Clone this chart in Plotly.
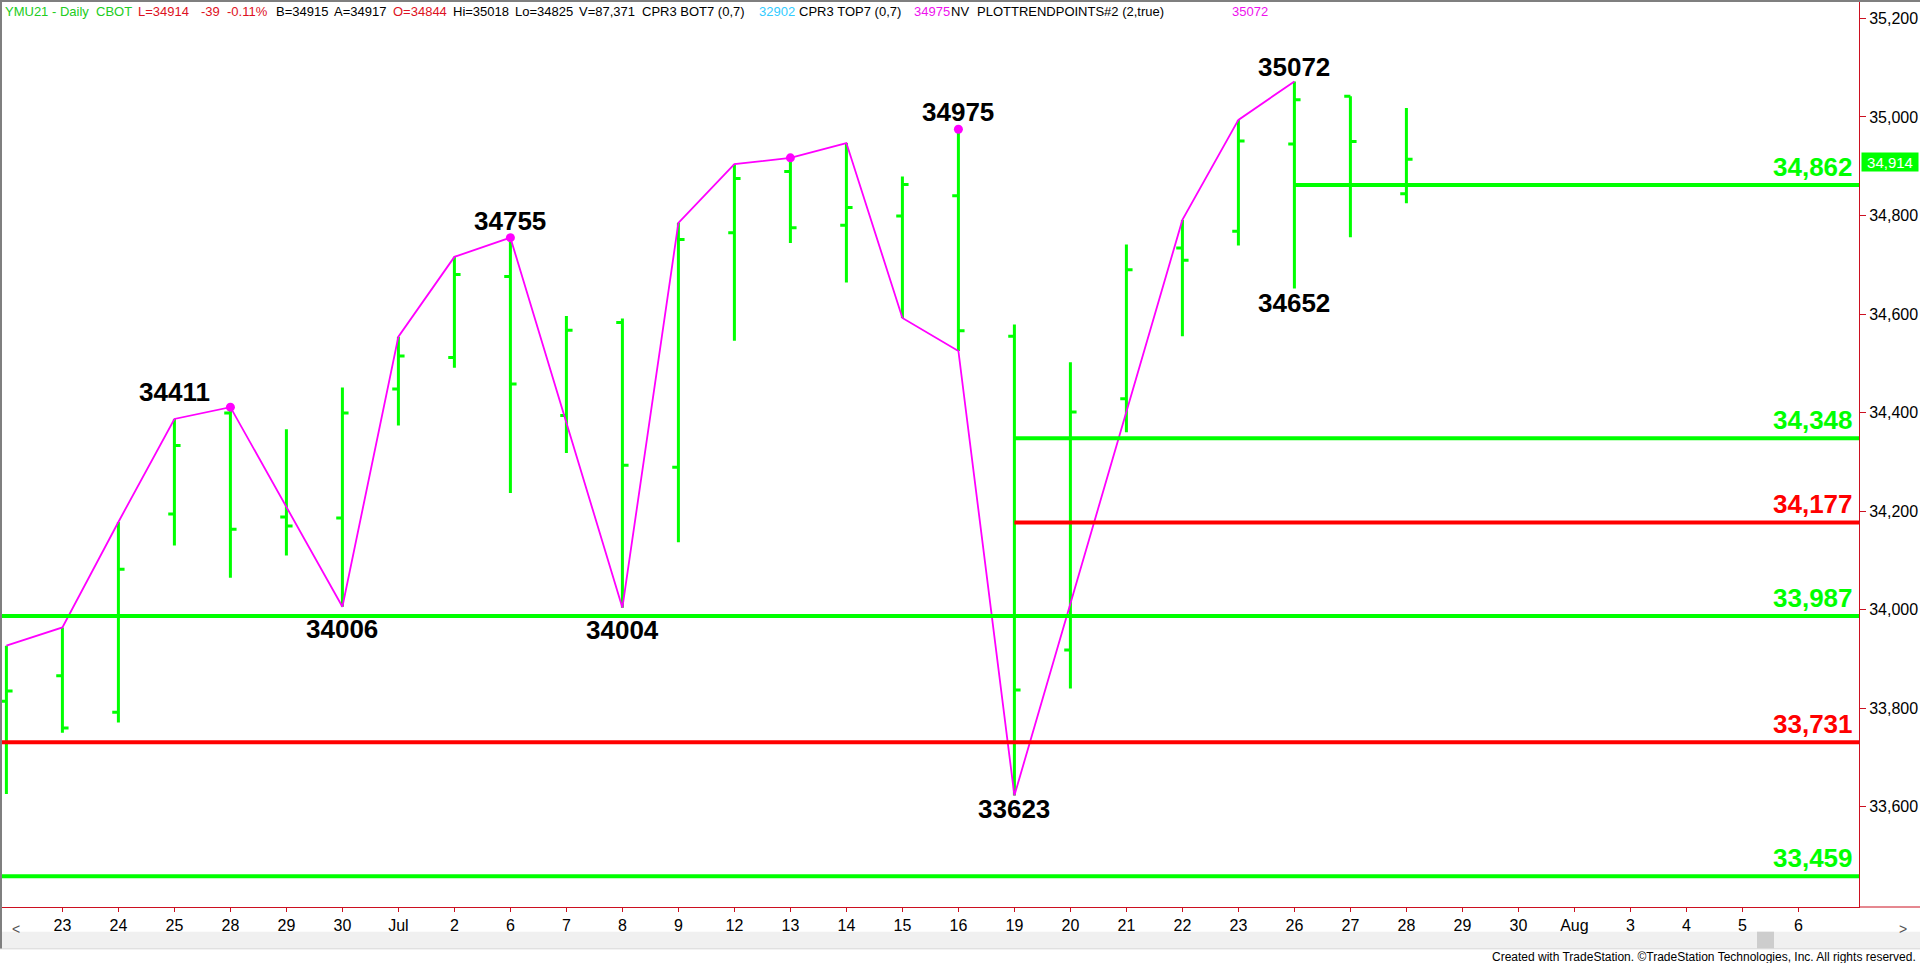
import plotly.graph_objects as go

# ---------------- data ----------------
dates = ["Jun 22", "Jun 23", "Jun 24", "Jun 25", "Jun 28", "Jun 29", "Jun 30",
         "Jul 1", "Jul 2", "Jul 6", "Jul 7", "Jul 8", "Jul 9", "Jul 12", "Jul 13",
         "Jul 14", "Jul 15", "Jul 16", "Jul 19", "Jul 20", "Jul 21", "Jul 22",
         "Jul 23", "Jul 26", "Jul 27", "Jul 28"]
future_dates = ["Jul 29", "Jul 30", "Aug 2", "Aug 3", "Aug 4", "Aug 5", "Aug 6"]
tick_labels = ["23", "24", "25", "28", "29", "30", "Jul", "2", "6", "7", "8", "9",
               "12", "13", "14", "15", "16", "19", "20", "21", "22", "23", "26",
               "27", "28", "29", "30", "Aug", "3", "4", "5", "6"]

opens = [33814, 33866, 33792, 34194, 34399, 34188, 34186, 34448, 34512, 34676,
         34394, 34583, 34289, 34765, 34889, 34780, 34799, 34840, 34555, 33918,
         34428, 34734, 34768, 34945, 35042, 34844]
highs = [33927, 33964, 34178, 34387, 34411, 34366, 34451, 34554, 34716, 34755,
         34596, 34591, 34785, 34904, 34917, 34947, 34879, 34975, 34579, 34502,
         34741, 34791, 34994, 35072, 35042, 35018]
lows = [33626, 33750, 33771, 34130, 34065, 34110, 34006, 34374, 34491, 34237,
        34318, 34004, 34137, 34546, 34744, 34664, 34592, 34525, 33623, 33840,
        34360, 34555, 34739, 34652, 34756, 34825]
closes = [33835, 33760, 34082, 34333, 34163, 34170, 34399, 34515, 34680, 34458,
          34567, 34293, 34751, 34875, 34775, 34816, 34863, 34566, 33837, 34401,
          34690, 34709, 34951, 35035, 34950, 34914]

zigzag_idx = [0, 1, 2, 3, 4, 6, 7, 8, 9, 11, 12, 13, 14, 15, 16, 17, 18, 21, 22, 23]
zigzag_val = [33927, 33964, 34178, 34387, 34411, 34006, 34554, 34716, 34755, 34004,
              34785, 34904, 34917, 34947, 34592, 34525, 33623, 34791, 34994, 35072]

dot_idx = [4, 9, 14, 17]
dot_val = [34411, 34755, 34917, 34975]

label_idx = [3, 6, 9, 11, 17, 18, 23, 23]
label_val = [34411, 34006, 34755, 34004, 34975, 33623, 35072, 34652]
label_text = ["34411", "34006", "34755", "34004", "34975", "33623", "35072", "34652"]

levels = [34862, 34348, 34177, 33987, 33731, 33459]
level_text = ["34,862", "34,348", "34,177", "33,987", "33,731", "33,459"]
level_kind = ["green", "green", "red", "green", "red", "green"]
level_start = [23, 18, 18, None, None, None]

last_price = 34914
last_price_text = "34,914"

y_ticks = [33600, 33800, 34000, 34200, 34400, 34600, 34800, 35000, 35200]

header_parts = [("YMU21 - Daily  CBOT", "green"), ("L=34914", "red"), ("-39", "red"),
                ("-0.11%", "red"), ("B=34915", "black"), ("A=34917", "black"),
                ("O=34844", "red"), ("Hi=35018", "black"), ("Lo=34825", "black"),
                ("V=87,371", "black"), ("CPR3 BOT7 (0,7)", "black"), ("32902", "cyan"),
                ("CPR3 TOP7 (0,7)", "black"), ("34975", "magenta"), ("NV", "black"),
                ("PLOTTRENDPOINTS#2 (2,true)", "black"), ("35072", "magenta")]
footer = "Created with TradeStation. ©TradeStation Technologies, Inc. All rights reserved."

# ---------------- layout geometry ----------------
W, H = 1920, 963
PW, PH = 1859, 907          # plot area width / height in px
X_PER = 56.0                # px per bar
X0 = 6.4                    # px of bar 0
x_range = [-X0 / X_PER, (PW - X0) / X_PER]
Y_TOP, Y_BOT = 35237.3, 33396.6

header_x = [3, 136, 199, 225, 274, 332, 391, 451, 513, 577, 640, 757, 797, 912, 949, 975, 1230]
label_shift = [15, -22, 17, -22, 17, -14, 14, -15]

COL = {"green": "#00FF00", "red": "#FF0000", "black": "#000000",
       "cyan": "#33CCFF", "magenta": "#FF00FF"}
HCOL = {"green": "#22CC22", "red": "#DD1122", "black": "#000000",
        "cyan": "#33CCFF", "magenta": "#EE11EE"}
AXIS_RED = "#CC1020"


def px_x(px):
    return px / PW


def px_y(py):
    return (PH - py) / PH


xs = list(range(len(dates)))

fig = go.Figure()

fig.add_trace(go.Ohlc(
    x=xs, open=opens, high=highs, low=lows, close=closes,
    increasing=dict(line=dict(color=COL["green"], width=3)),
    decreasing=dict(line=dict(color=COL["green"], width=3)),
    tickwidth=0.11, hoverinfo="skip", showlegend=False))

fig.add_trace(go.Scatter(
    x=zigzag_idx, y=zigzag_val, mode="lines",
    line=dict(color=COL["magenta"], width=1.8), hoverinfo="skip", showlegend=False))

fig.add_trace(go.Scatter(
    x=dot_idx, y=dot_val, mode="markers",
    marker=dict(color=COL["magenta"], size=9), hoverinfo="skip", showlegend=False))

shapes = []
annotations = []

# level lines + labels
for lv, txt, kind, st in zip(levels, level_text, level_kind, level_start):
    x0 = st if st is not None else x_range[0]
    shapes.append(dict(type="line", xref="x", yref="y", x0=x0, x1=x_range[1],
                       y0=lv, y1=lv, line=dict(color=COL[kind], width=4), layer="above"))
    annotations.append(dict(x=px_x(1855), xref="paper", y=lv, yref="y", text=txt,
                            showarrow=False, xanchor="right", yanchor="middle", yshift=18,
                            font=dict(family="Liberation Sans, Arial", size=26,
                                      color=COL[kind], weight="bold")))

# swing labels
for i, v, t, sh in zip(label_idx, label_val, label_text, label_shift):
    annotations.append(dict(x=i, xref="x", y=v, yref="y", text=t, showarrow=False,
                            xanchor="center", yanchor="middle", yshift=sh,
                            font=dict(family="Liberation Sans, Arial", size=26,
                                      color="#000000", weight="bold")))

# last price marker
annotations.append(dict(x=px_x(1861), xref="paper", y=last_price, yref="y",
                        text=last_price_text, showarrow=False, xanchor="left",
                        yanchor="middle", yshift=-3, bgcolor=COL["green"],
                        width=56, height=18, borderpad=0,
                        font=dict(family="Liberation Sans, Arial", size=15, color="#FFFFFF")))

# header
for (t, c), hx in zip(header_parts, header_x):
    annotations.append(dict(x=px_x(hx), xref="paper", y=px_y(11), yref="paper",
                            text=t.replace(" ", "\u00a0"), showarrow=False,
                            xanchor="left", yanchor="middle",
                            font=dict(family="Liberation Sans, Arial", size=13, color=HCOL[c])))

# footer
annotations.append(dict(x=px_x(1918), xref="paper", y=px_y(956.5), yref="paper",
                        text=footer, showarrow=False, xanchor="right", yanchor="middle",
                        font=dict(family="Liberation Sans Narrow, Arial Narrow, Liberation Sans",
                                  size=12, color="#000000")))

# scrollbar arrows
annotations.append(dict(x=px_x(10), xref="paper", y=px_y(939), yref="paper", text="<",
                        showarrow=False, font=dict(family="Liberation Sans", size=14, color="#555555")))
annotations.append(dict(x=px_x(1909), xref="paper", y=px_y(939), yref="paper", text=">",
                        showarrow=False, font=dict(family="Liberation Sans", size=14, color="#555555")))

# frame / chrome shapes
shapes += [
    dict(type="rect", xref="paper", yref="paper", x0=px_x(2), x1=px_x(1920),
         y0=px_y(948.3), y1=px_y(931.7), fillcolor="#F0F0F0", line=dict(width=0), layer="below"),
    dict(type="line", xref="paper", yref="paper", x0=px_x(0), x1=px_x(1920),
         y0=px_y(948.8), y1=px_y(948.8), line=dict(color="#D4D4D4", width=1)),
    dict(type="rect", xref="paper", yref="paper", x0=px_x(1757), x1=px_x(1774),
         y0=px_y(948.3), y1=px_y(931.7), fillcolor="#CDCDCD", line=dict(width=0)),
    dict(type="rect", xref="paper", yref="paper", x0=px_x(0), x1=px_x(1920),
         y0=px_y(2), y1=px_y(0), fillcolor="#7F7F7F", line=dict(width=0)),
    dict(type="rect", xref="paper", yref="paper", x0=px_x(0), x1=px_x(2),
         y0=px_y(948.5), y1=px_y(0), fillcolor="#7F7F7F", line=dict(width=0)),
    dict(type="line", xref="paper", yref="paper", x0=1, x1=px_x(1920),
         y0=0, y1=0, line=dict(color=AXIS_RED, width=1)),
]

fig.update_layout(
    width=W, height=H, autosize=False,
    margin=dict(l=0, r=W - PW, t=0, b=H - PH, pad=0),
    paper_bgcolor="#FFFFFF", plot_bgcolor="#FFFFFF",
    showlegend=False, shapes=shapes, annotations=annotations,
    xaxis=dict(range=x_range, rangeslider=dict(visible=False), showgrid=False,
               zeroline=False, showline=True, linecolor=AXIS_RED, linewidth=1,
               ticks="outside", ticklen=4, tickcolor=AXIS_RED, tickwidth=1,
               tickmode="array", tickvals=list(range(1, 1 + len(tick_labels))),
               ticktext=tick_labels,
               tickfont=dict(family="Liberation Sans, Arial", size=16, color="#000000")),
    yaxis=dict(range=[Y_BOT, Y_TOP], side="right", showgrid=False, zeroline=False,
               showline=True, linecolor=AXIS_RED, linewidth=1,
               ticks="outside", ticklen=6, tickcolor=AXIS_RED, tickwidth=1,
               tickmode="array", tickvals=y_ticks, tickformat=",d",
               tickfont=dict(family="Liberation Sans, Arial", size=16, color="#000000")),
)

fig.write_html("out.html", config={"displayModeBar": False},
               post_script="document.body.style.margin='0';document.body.style.overflow='hidden';")
